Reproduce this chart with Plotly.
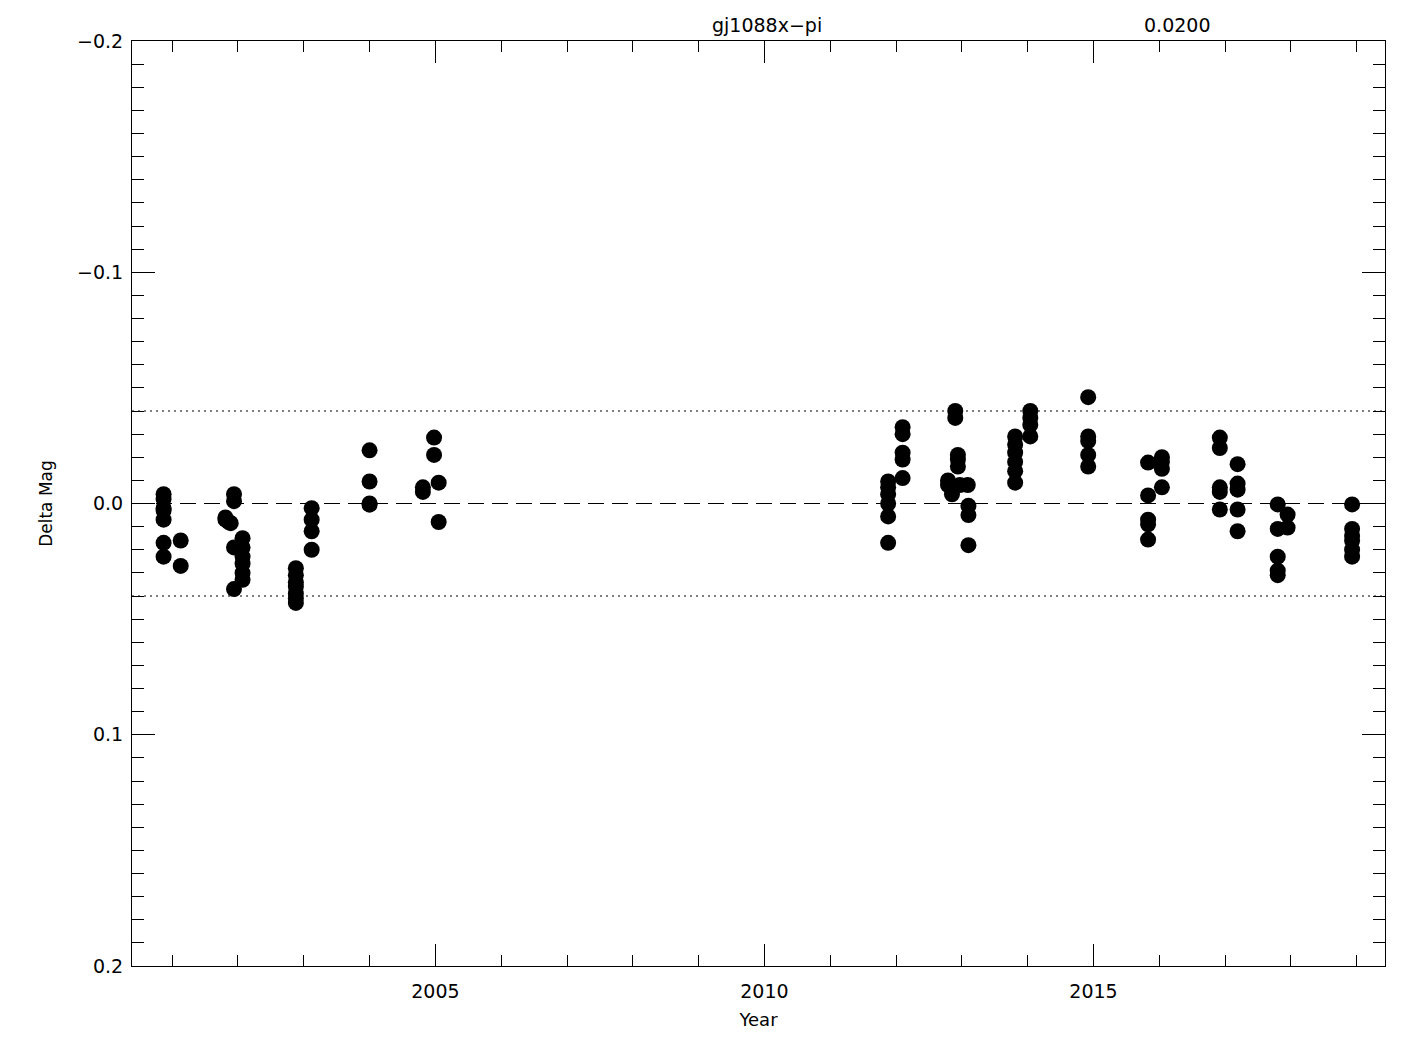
import plotly.graph_objects as go

# Observation epochs (decimal year) and the delta magnitudes measured at each epoch
epoch_years = [
    2000.87, 2001.13, 2001.81, 2001.86, 2001.89, 2001.94, 2002.07, 2002.88,
    2003.12, 2004.00, 2004.81, 2004.98, 2005.05,
    2011.88, 2012.10, 2012.79, 2012.85, 2012.90, 2012.94, 2012.97, 2013.09,
    2013.10, 2013.81, 2014.04, 2014.92, 2015.83, 2016.04, 2016.92, 2017.19,
    2017.80, 2017.95, 2018.93,
]
epoch_dmag = [
    [-0.004, -0.002, 0.002, 0.003, 0.007, 0.017, 0.023],
    [0.016, 0.027],
    [0.006, 0.007],
    [0.008],
    [0.0085],
    [-0.004, -0.001, 0.019, 0.037],
    [0.015, 0.019, 0.023, 0.026, 0.030, 0.033],
    [0.028, 0.031, 0.034, 0.036, 0.039, 0.041, 0.043],
    [0.002, 0.007, 0.012, 0.020],
    [-0.023, -0.0095, 0.0, 0.0005],
    [-0.007, -0.005],
    [-0.0285, -0.021],
    [-0.009, 0.008],
    [-0.0095, -0.007, -0.004, 0.0, 0.0056, 0.017],
    [-0.033, -0.030, -0.022, -0.019, -0.011],
    [-0.010, -0.008],
    [-0.006, -0.004],
    [-0.040, -0.037],
    [-0.021, -0.019, -0.016],
    [-0.008],
    [-0.008],
    [0.001, 0.005, 0.018],
    [-0.029, -0.0255, -0.022, -0.018, -0.014, -0.009],
    [-0.040, -0.037, -0.034, -0.029],
    [-0.046, -0.029, -0.027, -0.021, -0.016],
    [-0.0177, -0.0035, 0.007, 0.009, 0.0156],
    [-0.020, -0.018, -0.015, -0.007],
    [-0.0285, -0.024, -0.007, -0.005, 0.0026],
    [-0.017, -0.0086, -0.006, 0.0026, 0.012],
    [0.0004, 0.011, 0.023, 0.029, 0.031],
    [0.0048, 0.0104],
    [0.0004, 0.011, 0.014, 0.016, 0.020, 0.023],
]

y_tick_vals = [-0.2, -0.1, 0.0, 0.1, 0.2]
y_tick_text = ["\u22120.2", "\u22120.1", "0.0", "0.1", "0.2"]
x_tick_vals = [2005, 2010, 2015]
x_tick_text = ["2005", "2010", "2015"]
limit_band = 0.04
object_name = "gj1088x\u2212pi"
scale_text = "0.0200"

xs, ys = [], []
for yr, vals in zip(epoch_years, epoch_dmag):
    for v in vals:
        xs.append(yr)
        ys.append(v)

FONT = "DejaVu Sans"

fig = go.Figure()
fig.add_trace(go.Scatter(
    x=xs, y=ys, mode="markers",
    marker=dict(color="black", size=16, line=dict(width=0)),
    showlegend=False, hoverinfo="x+y",
))

x0, x1 = 2000.39, 2019.43

fig.add_shape(type="line", xref="paper", yref="y", x0=0, x1=1, y0=0, y1=0,
              line=dict(color="black", width=1, dash="16px,8px"))
for yv in (-limit_band, limit_band):
    fig.add_shape(type="line", xref="paper", yref="y", x0=0, x1=1, y0=yv, y1=yv,
                  line=dict(color="black", width=1, dash="2px,4px"))

fig.update_layout(
    width=1417, height=1042,
    margin=dict(l=124, r=40, t=33, b=84),
    paper_bgcolor="white", plot_bgcolor="white",
    font=dict(family=FONT, color="black", size=19),
    xaxis=dict(
        range=[x0, x1], showgrid=False, zeroline=False,
        showline=True, linecolor="black", linewidth=1, mirror="ticks",
        ticks="inside", ticklen=22, tickwidth=1, tickcolor="black",
        tickvals=x_tick_vals, ticktext=x_tick_text,
        tickfont=dict(family=FONT, size=19, color="black"),
        ticklabelstandoff=8,
        minor=dict(dtick=1, tick0=2000, ticks="inside", ticklen=11, tickcolor="black", showgrid=False),
        title=dict(text="Year", font=dict(family=FONT, size=18, color="black"), standoff=12),
    ),
    yaxis=dict(
        range=[0.2, -0.2], showgrid=False, zeroline=False,
        showline=True, linecolor="black", linewidth=1, mirror="ticks",
        ticks="inside", ticklen=23, tickwidth=1, tickcolor="black",
        tickvals=y_tick_vals, ticktext=y_tick_text,
        tickfont=dict(family=FONT, size=19, color="black"),
        ticklabelstandoff=4,
        minor=dict(dtick=0.01, tick0=0, ticks="inside", ticklen=12, tickcolor="black", showgrid=False),
        title=dict(text="Delta Mag", font=dict(family=FONT, size=17, color="black"), standoff=20),
    ),
    annotations=[
        dict(text=object_name, xref="paper", yref="paper", x=0.507, y=1.017,
             xanchor="center", yanchor="middle", showarrow=False,
             font=dict(family=FONT, size=19, color="black")),
        dict(text=scale_text, xref="paper", yref="paper", x=0.834, y=1.017,
             xanchor="center", yanchor="middle", showarrow=False,
             font=dict(family=FONT, size=19, color="black")),
    ],
)

fig.write_html("out.html")
